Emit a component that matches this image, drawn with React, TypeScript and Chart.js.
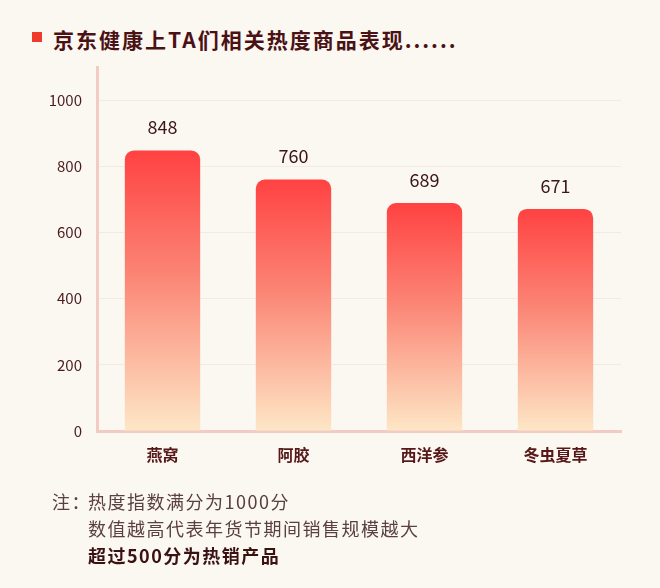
import React, { useEffect, useRef } from "react";
import { Chart, registerables } from "chart.js";

Chart.register(...registerables);

const categories = ["燕窝", "阿胶", "西洋参", "冬虫夏草"];
const heatValues = [848, 760, 689, 671];
const yTickValues = [0, 200, 400, 600, 800, 1000];
const titleText = "京东健康上TA们相关热度商品表现......";
const noteLabel = "注：";
const noteLines = ["热度指数满分为1000分", "数值越高代表年货节期间销售规模越大"];
const noteBold = "超过500分为热销产品";

const FONT = "'Noto Sans CJK SC', 'Noto Sans', sans-serif";

export default function App() {
  const canvasRef = useRef<HTMLCanvasElement | null>(null);

  useEffect(() => {
    document.body.style.margin = "0";
    document.body.style.background = "#fbf7f1";
    const canvas = canvasRef.current;
    if (!canvas) return;

    const valueLabels = {
      id: "valueLabels",
      afterDatasetsDraw(chart: any) {
        const ctx = chart.ctx;
        const meta = chart.getDatasetMeta(0);
        ctx.save();
        ctx.font = `400 18px ${FONT}`;
        ctx.fillStyle = "#3a1616";
        ctx.textAlign = "center";
        ctx.textBaseline = "middle";
        meta.data.forEach((bar: any, i: number) => {
          ctx.fillText(String(heatValues[i]), bar.x, bar.y - 23);
        });
        ctx.restore();
      },
    };

    const chart = new Chart(canvas, {
      type: "bar",
      data: {
        labels: categories,
        datasets: [
          {
            data: heatValues,
            backgroundColor: (c: any) => {
              const ch = c.chart;
              const area = ch.chartArea;
              if (!area || !ch.scales || !ch.scales.y) return "#fa8f80";
              const v = typeof c.raw === "number" ? c.raw : 0;
              const top = ch.scales.y.getPixelForValue(v);
              const g = ch.ctx.createLinearGradient(0, top, 0, area.bottom);
              g.addColorStop(0, "#ff4242");
              g.addColorStop(0.45, "#fb8676");
              g.addColorStop(1, "#fde7c6");
              return g;
            },
            borderRadius: 9,
            borderSkipped: "bottom",
            barPercentage: 0.575,
            categoryPercentage: 1,
          },
        ],
      },
      options: {
        responsive: false,
        animation: false,
        layout: { padding: { left: 0, top: 67, right: 39, bottom: 0 } },
        plugins: { legend: { display: false }, tooltip: { enabled: false } },
        scales: {
          x: {
            afterFit: (s: any) => {
              s.height = 157;
            },
            grid: { display: false, drawTicks: false },
            border: { display: true, color: "#f3cbc5", width: 3 },
            ticks: {
              padding: 14,
              color: "#561818",
              font: { family: FONT, size: 16, weight: "bold" },
            },
          },
          y: {
            min: 0,
            max: 1100,
            afterFit: (s: any) => {
              s.width = 97;
            },
            afterBuildTicks: (s: any) => {
              s.ticks = yTickValues.map((v) => ({ value: v }));
            },
            grid: { color: "#f4eadf", lineWidth: 1, drawTicks: false },
            border: { display: true, color: "#f3cbc5", width: 3 },
            ticks: {
              padding: 15,
              color: "#4a1c1c",
              font: { family: FONT, size: 15 },
              callback: (v: any) => String(v),
            },
          },
        },
      },
      plugins: [valueLabels],
    });

    return () => chart.destroy();
  }, []);

  return (
    <div
      style={{
        position: "relative",
        width: 660,
        height: 588,
        background: "#fbf7f1",
        fontFamily: FONT,
        overflow: "hidden",
      }}
    >
      <div
        style={{
          position: "absolute",
          left: 32,
          top: 32,
          width: 10,
          height: 10,
          background: "#ef3b2c",
        }}
      />
      <div
        style={{
          position: "absolute",
          left: 53,
          top: 27,
          fontSize: 21,
          lineHeight: "24px",
          fontWeight: 700,
          letterSpacing: "2px",
          color: "#4a1214",
          whiteSpace: "nowrap",
        }}
      >
        {titleText}
      </div>
      <canvas
        ref={canvasRef}
        width={660}
        height={588}
        style={{ position: "absolute", left: 0, top: 0 }}
      />
      <div
        style={{
          position: "absolute",
          left: 52,
          top: 488,
          fontSize: 18,
          lineHeight: "27px",
          color: "#5a4040",
          letterSpacing: "1.5px",
          whiteSpace: "nowrap",
        }}
      >
        {noteLabel}
      </div>
      <div
        style={{
          position: "absolute",
          left: 88,
          top: 488,
          fontSize: 18,
          lineHeight: "27px",
          color: "#5a4040",
          letterSpacing: "1.5px",
          whiteSpace: "nowrap",
        }}
      >
        {noteLines.map((l, i) => (
          <div key={i}>{l}</div>
        ))}
        <div style={{ fontWeight: 700, color: "#3a1212" }}>{noteBold}</div>
      </div>
    </div>
  );
}
